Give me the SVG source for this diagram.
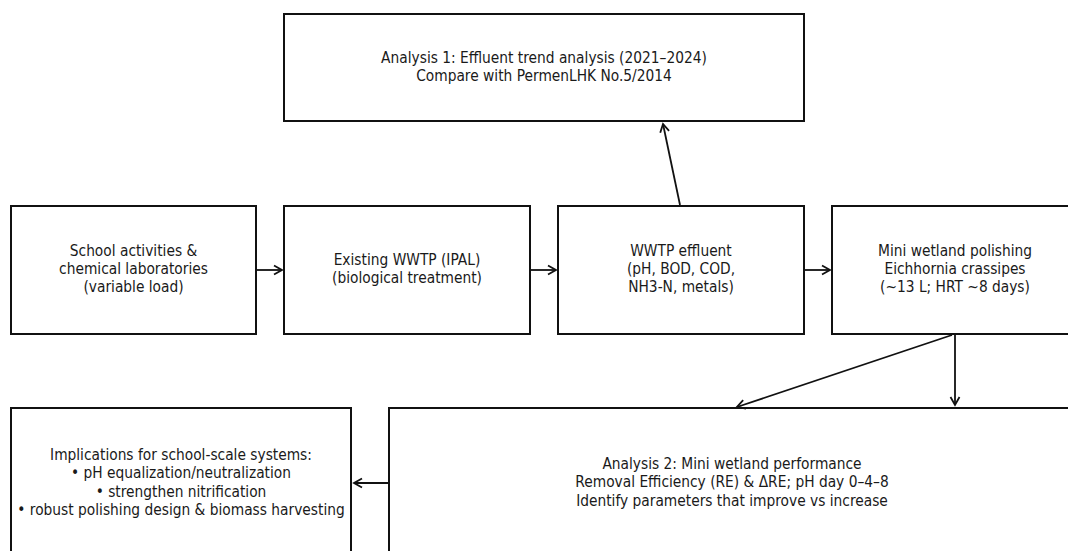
<svg xmlns="http://www.w3.org/2000/svg" width="1068" height="551" viewBox="0 0 1068 551">
<style>
.box{fill:#fff;stroke:#111;stroke-width:2}
.t{font-family:"DejaVu Sans",sans-serif;font-size:15.5px;fill:#1a1a1a;text-anchor:middle}
.c{stroke:#111;stroke-width:1.8;fill:none;marker-end:url(#ah)}
</style>
<defs>
<marker id="ah" markerUnits="userSpaceOnUse" markerWidth="14" markerHeight="14" viewBox="-10 -7 14 14" refX="0" refY="0" orient="auto">
<path d="M-8,-4.5 L0,0 L-8,4.5" fill="none" stroke="#111" stroke-width="1.8"/>
</marker>
</defs>
<rect width="1068" height="551" fill="#fff"/>
<g id="analysis1">
<rect class="box" x="284" y="14" width="520" height="107"/>
<text class="t" transform="translate(544 63) scale(0.89 1)">Analysis 1: Effluent trend analysis (2021–2024)</text>
<text class="t" transform="translate(544 81) scale(0.89 1)">Compare with PermenLHK No.5/2014</text>
</g>
<g id="school">
<rect class="box" x="11" y="206" width="245" height="128"/>
<text class="t" transform="translate(133.5 256) scale(0.89 1)">School activities &amp;</text>
<text class="t" transform="translate(133.5 274) scale(0.89 1)">chemical laboratories</text>
<text class="t" transform="translate(133.5 292) scale(0.89 1)">(variable load)</text>
</g>
<g id="wwtp">
<rect class="box" x="284" y="206" width="246" height="128"/>
<text class="t" transform="translate(407 265) scale(0.89 1)">Existing WWTP (IPAL)</text>
<text class="t" transform="translate(407 283) scale(0.89 1)">(biological treatment)</text>
</g>
<g id="effluent">
<rect class="box" x="558" y="206" width="246" height="128"/>
<text class="t" transform="translate(681 256) scale(0.89 1)">WWTP effluent</text>
<text class="t" transform="translate(681 274) scale(0.89 1)">(pH, BOD, COD,</text>
<text class="t" transform="translate(681 292) scale(0.89 1)">NH3-N, metals)</text>
</g>
<g id="wetland">
<rect class="box" x="832" y="206" width="246" height="128"/>
<text class="t" transform="translate(955 256) scale(0.89 1)">Mini wetland polishing</text>
<text class="t" transform="translate(955 274) scale(0.89 1)">Eichhornia crassipes</text>
<text class="t" transform="translate(955 292) scale(0.89 1)">(~13 L; HRT ~8 days)</text>
</g>
<g id="implications">
<rect class="box" x="11" y="408" width="340" height="150"/>
<text class="t" transform="translate(181 459.5) scale(0.89 1)">Implications for school-scale systems:</text>
<text class="t" transform="translate(181 478) scale(0.89 1)">• pH equalization/neutralization</text>
<text class="t" transform="translate(181 496.5) scale(0.89 1)">• strengthen nitrification</text>
<text class="t" transform="translate(181 515) scale(0.89 1)">• robust polishing design &amp; biomass harvesting</text>
</g>
<g id="analysis2">
<rect class="box" x="389" y="408" width="686" height="150"/>
<text class="t" transform="translate(732 468.5) scale(0.89 1)">Analysis 2: Mini wetland performance</text>
<text class="t" transform="translate(732 487) scale(0.89 1)">Removal Efficiency (RE) &amp; ΔRE; pH day 0–4–8</text>
<text class="t" transform="translate(732 505.5) scale(0.89 1)">Identify parameters that improve vs increase</text>
</g>
<g id="connectors">
<line class="c" x1="257" y1="270" x2="282" y2="270"/>
<line class="c" x1="531" y1="270" x2="556" y2="270"/>
<line class="c" x1="805" y1="270" x2="830" y2="270"/>
<line class="c" x1="680" y1="205" x2="663" y2="124"/>
<line class="c" x1="952" y1="335" x2="737" y2="407"/>
<line class="c" x1="955" y1="335" x2="955" y2="405"/>
<line class="c" x1="388" y1="483" x2="354" y2="483"/>
</g>
</svg>
